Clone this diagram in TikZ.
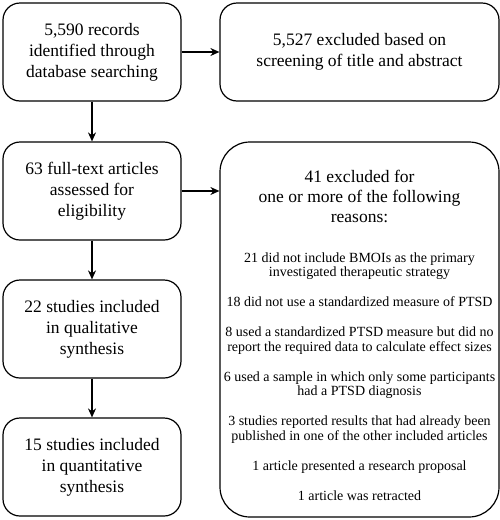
\documentclass[tikz,border=0pt]{standalone}
\usepackage{fontspec}
\setmainfont{Liberation Serif}
\usetikzlibrary{arrows.meta}
\begin{document}
\begin{tikzpicture}[x=1pt,y=-1pt,
  box/.style={draw, line width=1.2pt, rounded corners=17pt, align=center, inner sep=0pt,
    minimum width=178pt, minimum height=98pt, font=\fontsize{17.5}{21}\selectfont},
  widebox/.style={box, minimum width=279pt},
  bigbox/.style={draw, line width=1.2pt, rounded corners=30pt, inner sep=0pt,
    minimum width=279pt, minimum height=375pt},
  head/.style={anchor=base, inner sep=0pt, font=\fontsize{17.5}{20}\selectfont},
  reason/.style={anchor=base, inner sep=0pt, font=\fontsize{14}{14.5}\selectfont},
  arr/.style={-{Stealth[length=9pt,width=8pt]}, line width=1.2pt}]
\useasboundingbox (0,0) rectangle (500,520);
\node[box] (rec) at (92,52) {5,590 records\\identified through\\database searching};
\node[widebox] (scr) at (359.5,52) {5,527 excluded based on\\screening of title and abstract};
\node[box] (full) at (92,191) {63 full-text articles\\assessed for\\eligibility};
\node[box] (qual) at (92,329) {22 studies included\\in qualitative\\synthesis};
\node[box] (quant) at (92,467) {15 studies included\\in quantitative\\synthesis};
\node[bigbox] (excl) at (359.5,329.5) {};
\node[head] (h1) at (359.5,182) {41 excluded for};
\node[head] (h2) at (359.5,202) {one or more of the following};
\node[head] (h3) at (359.5,222) {reasons:};
\node[reason] (r1) at (359.5,262) {21 did not include BMOIs as the primary};
\node[reason] (r2) at (359.5,276.5) {investigated therapeutic strategy};
\node[reason] (r3) at (359.5,306.5) {18 did not use a standardized measure of PTSD};
\node[reason] (r4) at (359.5,336.5) {8 used a standardized PTSD measure but did no};
\node[reason] (r5) at (359.5,351) {report the required data to calculate effect sizes};
\node[reason] (r6) at (359.5,381) {6 used a sample in which only some participants};
\node[reason] (r7) at (359.5,395.5) {had a PTSD diagnosis};
\node[reason] (r8) at (359.5,425.5) {3 studies reported results that had already been};
\node[reason] (r9) at (359.5,440) {published in one of the other included articles};
\node[reason] (r10) at (359.5,470) {1 article presented a research proposal};
\node[reason] (r11) at (359.5,500) {1 article was retracted};
\draw[arr] (rec) -- (scr);
\draw[arr] (rec) -- (full);
\draw[arr] (full.east) -- (full.east -| excl.west);
\draw[arr] (full) -- (qual);
\draw[arr] (qual) -- (quant);
\end{tikzpicture}
\end{document}
